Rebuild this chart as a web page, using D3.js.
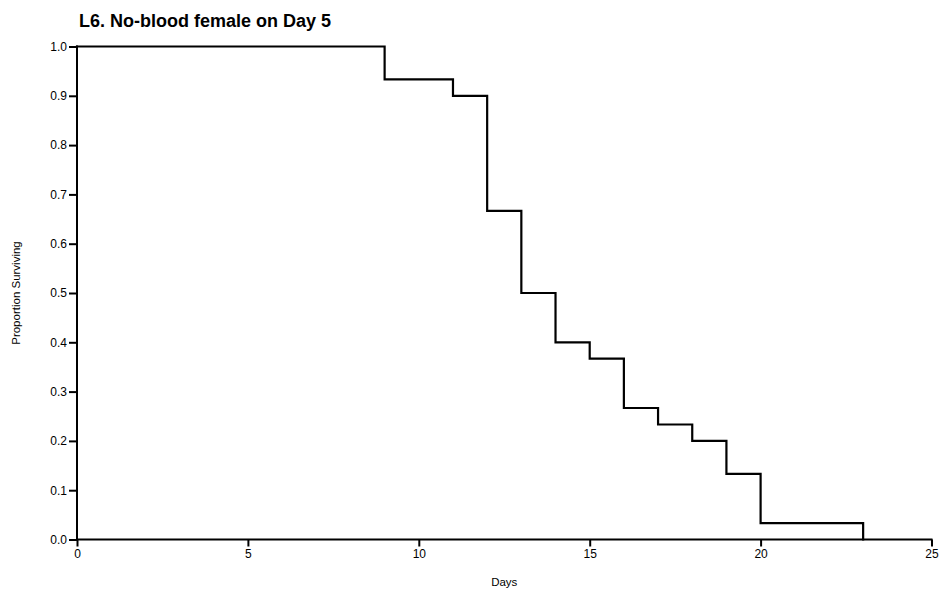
<!DOCTYPE html>
<html>
<head>
<meta charset="utf-8">
<script src="https://cdn.jsdelivr.net/npm/d3@7"></script>
<style>
  html, body { margin: 0; padding: 0; background: #fff; }
  svg { display: block; font-family: "Liberation Sans", Arial, sans-serif; }
</style>
</head>
<body>
<svg id="chart" width="946" height="592"></svg>
<script>
// Kaplan–Meier survival steps: the day each step starts and the proportion surviving from then on
const stepDays = [0, 9, 11, 12, 13, 14, 15, 16, 17, 18, 19, 20, 23];
const survival = [1.0, 0.9333, 0.9, 0.6667, 0.5, 0.4, 0.3667, 0.2667, 0.2333, 0.2, 0.1333, 0.0333, 0.0];
const xTicks = [0, 5, 10, 15, 20, 25];
const yTicks = [0, 0.1, 0.2, 0.3, 0.4, 0.5, 0.6, 0.7, 0.8, 0.9, 1.0];
const titleText = "L6. No-blood female on Day 5";
const xTitle = "Days";
const yTitle = "Proportion Surviving";

const svg = d3.select("#chart");
const plotLeft = 77, plotRight = 931.5, plotTop = 46.5, plotBottom = 539.5;

const x = d3.scaleLinear().domain([0, 25]).range([plotLeft, plotRight]);
const y = d3.scaleLinear().domain([0, 1]).range([plotBottom, plotTop]);

// Title
svg.append("text")
  .attr("x", 79).attr("y", 27)
  .attr("font-size", 18).attr("font-weight", "bold")
  .attr("fill", "#000")
  .text(titleText);

// Axes
const xAxis = svg.append("g")
  .attr("transform", `translate(0,${plotBottom})`)
  .call(d3.axisBottom(x).tickValues(xTicks).tickSize(7).tickPadding(3).tickFormat(d3.format("d")));
const yAxis = svg.append("g")
  .attr("transform", `translate(${plotLeft},0)`)
  .call(d3.axisLeft(y).tickValues(yTicks).tickSize(8).tickPadding(2).tickFormat(d3.format(".1f")));

[xAxis, yAxis].forEach(g => {
  g.select(".domain").attr("stroke", "#000").attr("stroke-width", 2);
  g.selectAll(".tick line").attr("stroke", "#000").attr("stroke-width", 2);
  g.selectAll(".tick text").attr("font-size", 12).attr("fill", "#000")
    .attr("font-family", "'Liberation Sans', Arial, sans-serif");
});
xAxis.select(".domain").attr("d", `M${plotLeft - 1},0H${plotRight + 1}`);
yAxis.select(".domain").attr("d", `M0,${plotBottom + 1}V${plotTop - 1}`);

// Axis titles
svg.append("text")
  .attr("x", (plotLeft + plotRight) / 2).attr("y", 586)
  .attr("text-anchor", "middle").attr("font-size", 11.5)
  .text(xTitle);
svg.append("text")
  .attr("transform", `translate(20,${(plotTop + plotBottom) / 2}) rotate(-90)`)
  .attr("text-anchor", "middle").attr("font-size", 11.5)
  .text(yTitle);

// Survival curve drawn as a step-after line
const pts = stepDays.map((d, i) => [d, survival[i]]);
const line = d3.line()
  .x(d => x(d[0]))
  .y(d => y(d[1]))
  .curve(d3.curveStepAfter);

svg.append("path")
  .datum(pts)
  .attr("d", line)
  .attr("fill", "none")
  .attr("stroke", "#000")
  .attr("stroke-width", 2.2)
  .attr("stroke-linejoin", "miter")
  .attr("stroke-linecap", "square");
</script>
</body>
</html>
